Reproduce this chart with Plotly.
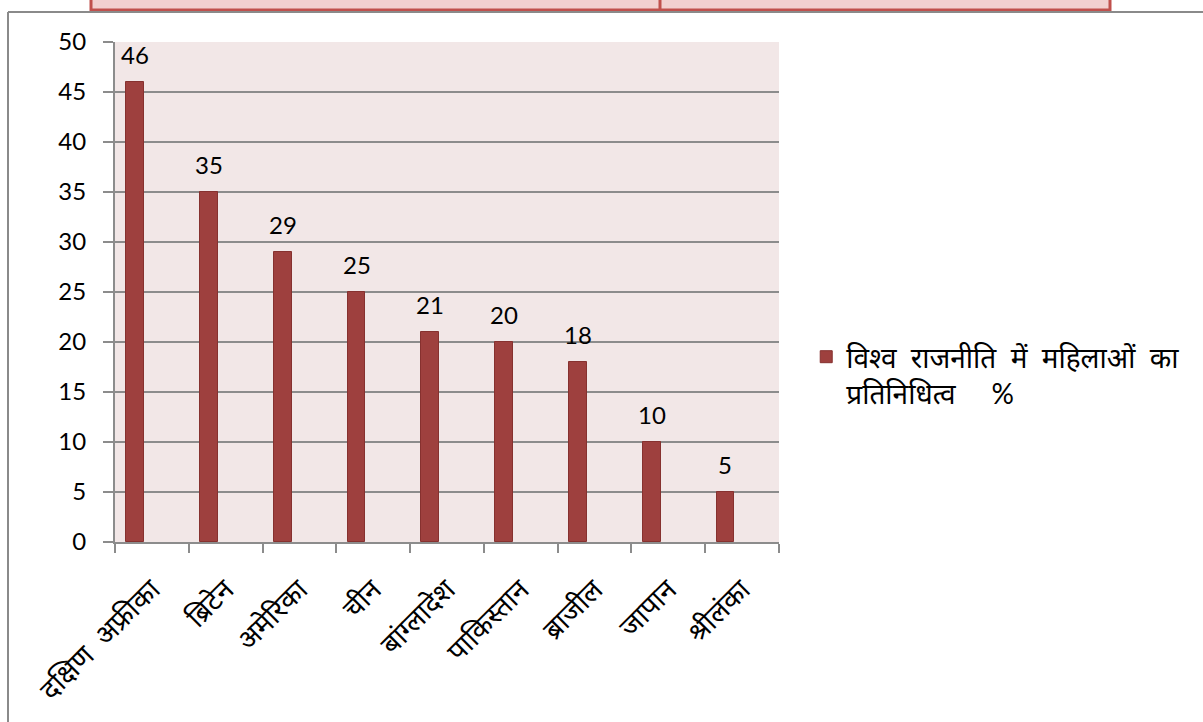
import plotly.graph_objects as go

categories = ["दक्षिण  अफ्रीका", "ब्रिटेन", "अमेरिका", "चीन", "बांग्लादेश", "पाकिस्तान", "ब्राजील", "जापान", "श्रीलंका"]
values = [46, 35, 29, 25, 21, 20, 18, 10, 5]
series_name = "विश्व  राजनीति  में  महिलाओं  का<br>प्रतिनिधित्व     %"
y_ticks = [0, 5, 10, 15, 20, 25, 30, 35, 40, 45, 50]

FONT = "Lato, Noto Sans, sans-serif"
BAR_OFFSET = -0.346
BAR_WIDTH = 0.24

fig = go.Figure()
fig.add_trace(go.Bar(
    x=categories, y=values, name=series_name,
    offset=BAR_OFFSET, width=BAR_WIDTH,
    marker=dict(color="#9E403E", line=dict(color="#86312F", width=1)),
    showlegend=True,
))

for i, v in enumerate(values):
    fig.add_annotation(x=i + BAR_OFFSET + BAR_WIDTH / 2, y=v, text=str(v),
                       showarrow=False, yanchor="middle", yshift=28,
                       font=dict(size=24, color="black", family=FONT))

GRID = "#8C8C8C"
fig.update_layout(
    width=1203, height=722,
    margin=dict(l=115, r=424, t=42, b=180),
    paper_bgcolor="white", plot_bgcolor="#F2E7E7",
    font=dict(family=FONT, size=24, color="black"),
    showlegend=True,
    legend=dict(x=1.041, y=0.42, xanchor="left", yanchor="top", valign="top",
                font=dict(size=28, family=FONT), bgcolor="rgba(0,0,0,0)"),
    bargap=0,
)
fig.update_xaxes(type="category", range=[-0.5, 8.5], tickson="boundaries",
                 ticks="outside", ticklen=9, tickcolor=GRID, tickwidth=2,
                 showline=True, linecolor=GRID, linewidth=2,
                 showgrid=False, tickangle=-45, tickfont=dict(size=28),
                 ticklabelstandoff=18)
fig.update_yaxes(range=[0, 50], tickvals=y_ticks, ticks="outside", ticklen=10,
                 tickcolor=GRID, tickwidth=2, showline=True, linecolor=GRID, linewidth=2,
                 showgrid=True, gridcolor=GRID, gridwidth=2, zeroline=False,
                 ticklabelstandoff=12, tickfont=dict(size=24))

# decorative page elements: top table row and outer frame
px = lambda p: (p - 115) / 664
py = lambda p: (542 - p) / 500
fig.add_shape(type="rect", xref="paper", yref="paper",
              x0=px(91), x1=px(1110), y0=py(10), y1=py(-5),
              fillcolor="#F2D0D0", line=dict(color="#C0504D", width=3), layer="below")
fig.add_shape(type="line", xref="paper", yref="paper",
              x0=px(660), x1=px(660), y0=py(10), y1=py(-5),
              line=dict(color="#C0504D", width=3))
fig.add_shape(type="line", xref="paper", yref="paper",
              x0=px(8), x1=px(1215), y0=py(12), y1=py(12),
              line=dict(color="#8A8A8A", width=2))
fig.add_shape(type="line", xref="paper", yref="paper",
              x0=px(8), x1=px(8), y0=py(12), y1=py(740),
              line=dict(color="#8A8A8A", width=2))

fig.write_html("out.html")
